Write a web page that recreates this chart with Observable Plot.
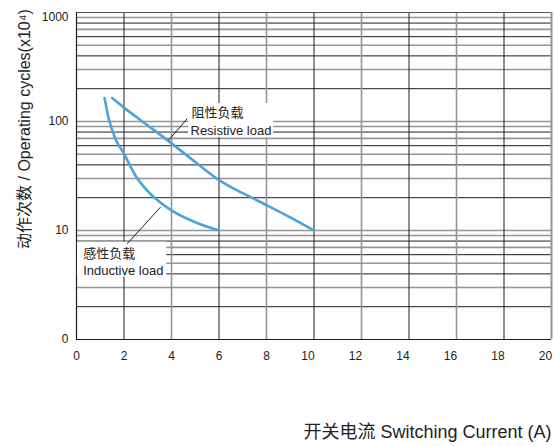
<!DOCTYPE html>
<html>
<head>
<meta charset="utf-8">
<script src="https://cdn.jsdelivr.net/npm/d3@7"></script>
<script src="https://cdn.jsdelivr.net/npm/@observablehq/plot@0.6"></script>
<style>
  html, body { margin: 0; padding: 0; background: #fff; }
  #chart svg { display: block; }
</style>
</head>
<body>
<div id="chart"></div>
<script>
// ---- data ----
const xTicks = [0, 2, 4, 6, 8, 10, 12, 14, 16, 18, 20];
const yTickValues = [1, 10, 100, 1000];
const yTickLabels = ["0", "10", "100", "1000"];
const yGrid = [1, 2, 3, 4, 5, 6, 7, 8, 9,
               10, 20, 30, 40, 50, 60, 70, 80, 90,
               100, 200, 300, 400, 500, 600, 700, 800, 900, 1000];

const resistiveX = [1.5, 2, 3, 4, 5, 6, 7, 8, 9, 10];
const resistiveY = [164, 134, 92, 63, 42.5, 29, 22, 17.1, 13.2, 10];
const inductiveX = [1.18, 1.36, 1.64, 1.97, 2.48, 3.04, 3.6, 4.0, 5.0, 6.0];
const inductiveY = [164, 106, 69, 52, 32, 22.5, 17.6, 15.3, 11.9, 10];

const resistiveLabel = ["阻性负载", "Resistive load"];
const inductiveLabel = ["感性负载", "Inductive load"];
const yTitle = "动作次数 / Operating cycles(x10⁴)";
const xTitle = "开关电流 Switching Current (A)";

// annotation anchors (data units)
const labelBoxes = [
  {x1: 4.72, x2: 8.3, y1: 71, y2: 146},
  {x1: 0.04, x2: 3.8, y1: 3.73, y2: 7.82}
];
const labelTexts = [
  {x: 4.84, y: 119, t: resistiveLabel[0]},
  {x: 4.8, y: 81.5, t: resistiveLabel[1]},
  {x: 0.28, y: 6.11, t: inductiveLabel[0]},
  {x: 0.28, y: 4.24, t: inductiveLabel[1]}
];
const leaders = [
  {x1: 3.87, y1: 67, x2: 4.66, y2: 106},
  {x1: 3.54, y1: 16.4, x2: 2.13, y2: 7.55}
];

const resistive = resistiveX.map((x, i) => ({x, y: resistiveY[i]}));
const inductive = inductiveX.map((x, i) => ({x, y: inductiveY[i]}));

const font = "'Liberation Sans', Arial, 'Noto Sans CJK SC', sans-serif";
const dark = "#1e1e1e";
const gray = "#959595";
const blue = "#4ba3dc";

const hGrid = yGrid.filter(v => v !== 1 && v !== 1000);
const isEven = v => { const k = Math.round(v / Math.pow(10, Math.floor(Math.log10(v) + 1e-9))); return k % 2 === 0; };
const vGrid = xTicks.filter(v => v !== 0 && v !== 20);
const yFmt = d => yTickLabels[yTickValues.indexOf(d)];

const chart = Plot.plot({
  width: 554,
  height: 446,
  marginLeft: 76,
  marginRight: 3,
  marginTop: 12,
  marginBottom: 107,
  style: {fontFamily: font, fontSize: "12px", color: "#222", background: "#fff"},
  x: {domain: [0, 20]},
  y: {type: "log", domain: [1, 1000]},
  marks: [
    Plot.ruleY(hGrid.filter(v => !isEven(v)), {stroke: gray, strokeWidth: 1.6}),
    Plot.ruleY(hGrid.filter(isEven), {stroke: dark, strokeWidth: 1}),
    Plot.ruleX(vGrid.filter(v => v % 4 === 0), {stroke: gray, strokeWidth: 1.6}),
    Plot.ruleX(vGrid.filter(v => v % 4 !== 0), {stroke: dark, strokeWidth: 1}),
    Plot.ruleY([1000], {stroke: "#555", strokeWidth: 1.2}),
    Plot.ruleY([1], {stroke: dark, strokeWidth: 1.2}),
    Plot.ruleX([20], {stroke: gray, strokeWidth: 2}),
    Plot.ruleX([0], {stroke: dark, strokeWidth: 1.2}),
    Plot.rect(labelBoxes, {x1: "x1", x2: "x2", y1: "y1", y2: "y2", fill: "white"}),
    Plot.line(resistive, {x: "x", y: "y", stroke: blue, strokeWidth: 2.6, curve: "monotone-x"}),
    Plot.line(inductive, {x: "x", y: "y", stroke: blue, strokeWidth: 2.6, curve: "monotone-x"}),
    Plot.text(labelTexts, {x: "x", y: "y", text: "t", textAnchor: "start", fontSize: 13, fill: "#222"}),
    Plot.link(leaders, {x1: "x1", y1: "y1", x2: "x2", y2: "y2", stroke: dark, strokeWidth: 1}),
    Plot.axisY({ticks: yTickValues.filter(d => d < 1000), tickFormat: yFmt, tickSize: 0, tickPadding: 8, label: null, fontSize: 12}),
    Plot.axisY({ticks: [1000], tickFormat: yFmt, tickSize: 0, tickPadding: 8, label: null, fontSize: 12, dy: 5}),
    Plot.axisX({ticks: xTicks.filter(d => d < 10), tickSize: 0, tickPadding: 12, label: null, fontSize: 12}),
    Plot.axisX({ticks: xTicks.filter(d => d >= 10), tickSize: 0, tickPadding: 12, label: null, fontSize: 12, dx: -6}),
    Plot.text([yTitle], {frameAnchor: "left", rotate: -90, dx: -52, dy: -47, textAnchor: "middle", lineAnchor: "middle", fontSize: 16, fill: "#222"}),
    Plot.text([xTitle], {frameAnchor: "bottom-right", dy: 93, textAnchor: "end", lineAnchor: "middle", fontSize: 18, fill: "#222"})
  ]
});
document.getElementById("chart").appendChild(chart);
</script>
</body>
</html>
